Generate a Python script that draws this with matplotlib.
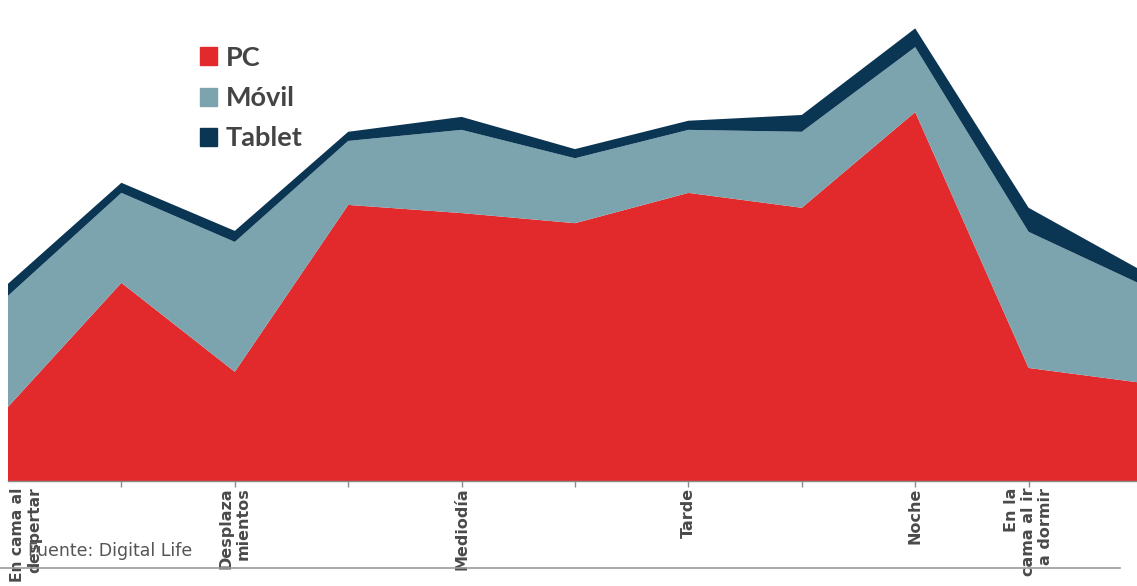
import numpy as np
import matplotlib.pyplot as plt
from matplotlib.patches import Patch

# franjas horarias (11 puntos) y etiquetas visibles
franjas = list(range(11))
etiquetas = {0: 'En cama al\ndespertar', 2: 'Desplaza\nmientos', 4: 'Mediodía',
             6: 'Tarde', 8: 'Noche', 9: 'En la\ncama al ir\na dormir'}

pc = [15.4, 41.2, 22.7, 57.4, 55.7, 53.6, 59.9, 56.8, 76.7, 23.5, 20.4]
movil = [23.1, 18.7, 27.0, 13.3, 17.3, 13.5, 13.1, 15.8, 13.5, 28.3, 20.4]
tablet = [2.5, 2.1, 2.3, 1.9, 2.7, 1.9, 1.9, 3.5, 3.9, 5.0, 2.9]

c_pc = '#e2292b'
c_movil = '#7ba4ae'
c_tablet = '#0b3653'

W, H = 1137, 586
fig = plt.figure(figsize=(W / 100, H / 100), dpi=100)
ax = fig.add_axes([8 / W, (H - 481) / H, 1134 / W, 481 / H])
ax.stackplot(franjas, pc, movil, tablet, colors=[c_pc, c_movil, c_tablet],
             linewidth=0)
ax.set_xlim(0, 10)
ax.set_ylim(0, 100)
ax.patch.set_alpha(0)

for s in ['top', 'right', 'left']:
    ax.spines[s].set_visible(False)
ax.spines['bottom'].set_color('#8a8a8a')
ax.spines['bottom'].set_linewidth(1.0)
ax.set_yticks([])
ax.set_xticks(franjas[1:])
ax.set_xticklabels([])
ax.tick_params(axis='x', length=4, color='#8a8a8a', width=1)

# pie de fuente y linea inferior
fig.text(28 / W, 1 - 551 / H, 'Fuente: Digital Life', fontsize=12.5, color='#555555',
         va='center', ha='left', family='DejaVu Sans', zorder=1)
fig.add_artist(plt.Line2D([0, 1120 / W], [1 - 568 / H, 1 - 568 / H],
                          color='#9a9a9a', linewidth=1.2))

# etiquetas de las franjas (rotadas)
for i, txt in etiquetas.items():
    xpos = i if i > 0 else 0.16
    fs = 11.5 if i > 0 else 11.2
    ax.text(xpos, -0.014, txt, rotation=90, ha='center', va='top',
            multialignment='right', fontsize=fs, fontweight='bold',
            color='#4a4a4a', family='DejaVu Sans', linespacing=1.2,
            transform=ax.get_xaxis_transform(), zorder=5)

handles = [Patch(color=c_pc, label='PC'), Patch(color=c_movil, label='Móvil'),
           Patch(color=c_tablet, label='Tablet')]
leg = fig.legend(handles=handles, loc='upper left', bbox_to_anchor=(189 / W, 1 - 35 / H),
                 frameon=False, prop={'family': 'Lato', 'weight': 'bold', 'size': 19.5},
                 handlelength=0.65, handleheight=0.65, handletextpad=0.3,
                 labelspacing=0.6, borderaxespad=0)
for t in leg.get_texts():
    t.set_color('#444444')

fig.savefig('out.png', dpi=100)
